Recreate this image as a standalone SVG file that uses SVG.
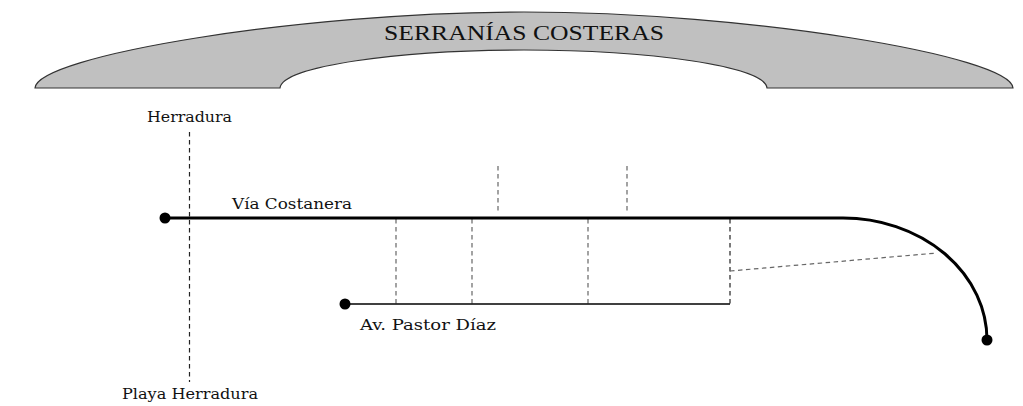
<svg xmlns="http://www.w3.org/2000/svg" width="1023" height="406" viewBox="0 0 1023 406">
<style>
.lbl{font-family:"DejaVu Serif","Liberation Serif",serif;font-size:15px;fill:#111}
.title{font-family:"Liberation Serif","DejaVu Serif",serif;font-size:21px;fill:#111}
.dash{fill:none;stroke:#222;stroke-width:1.2;stroke-dasharray:4.5 3.5}
.dashg{fill:none;stroke:#666;stroke-width:1.2;stroke-dasharray:4.5 3.5}
.road{fill:none;stroke:#000;stroke-width:3}
.road2{fill:none;stroke:#000;stroke-width:1.6}
</style>
<rect width="1023" height="406" fill="#fff"/>
<g id="serranias">
<path d="M35,88 C37,56 300,12 524,12 C748,12 1011,56 1013,88 L767,88 C765,66 648,50 524,50 C400,50 282,66 280,88 Z" fill="#C0C0C0" stroke="#333" stroke-width="1.2"/>
<text class="title" x="524" y="40" text-anchor="middle" textLength="280" lengthAdjust="spacingAndGlyphs">SERRANÍAS COSTERAS</text>
</g>
<g id="connectors">
<line class="dash" x1="189.5" y1="132" x2="189.5" y2="382"/>
<line class="dashg" x1="498" y1="166" x2="498" y2="213"/>
<line class="dashg" x1="627" y1="166" x2="627" y2="213"/>
<line class="dashg" x1="396" y1="219" x2="396" y2="304"/>
<line class="dashg" x1="472" y1="219" x2="472" y2="304"/>
<line class="dashg" x1="588" y1="219" x2="588" y2="304"/>
<line class="dash" x1="730" y1="219" x2="730" y2="304"/>
<line class="dashg" x1="730" y1="271" x2="937" y2="253"/>
</g>
<g id="via-costanera">
<path class="road" d="M165,218 L843,218 A144,122 0 0 1 987,340"/>
<circle cx="165" cy="218" r="5.5" fill="#000"/>
<circle cx="987" cy="340" r="5.5" fill="#000"/>
<text class="lbl" x="232" y="209" textLength="120" lengthAdjust="spacingAndGlyphs">Vía Costanera</text>
</g>
<g id="av-pastor-diaz">
<line class="road2" x1="345" y1="304" x2="730" y2="304"/>
<circle cx="345" cy="304" r="5.5" fill="#000"/>
<text class="lbl" x="360" y="330" textLength="136" lengthAdjust="spacingAndGlyphs">Av. Pastor Díaz</text>
</g>
<g id="herradura">
<text class="lbl" x="147" y="122" textLength="85" lengthAdjust="spacingAndGlyphs">Herradura</text>
</g>
<g id="playa-herradura">
<text class="lbl" x="122" y="399" textLength="136" lengthAdjust="spacingAndGlyphs">Playa Herradura</text>
</g>
</svg>
